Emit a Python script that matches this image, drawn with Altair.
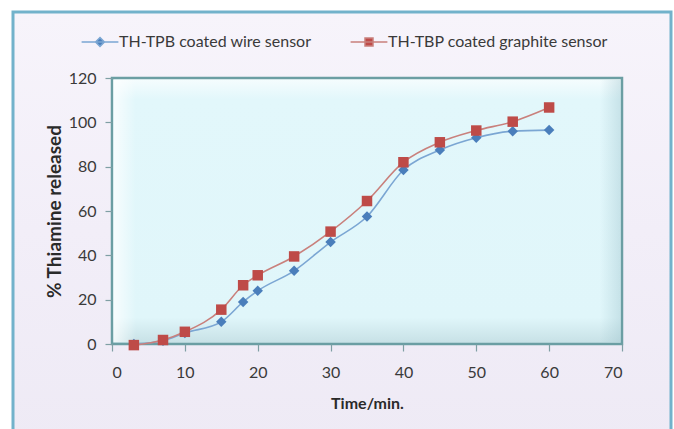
import altair as alt
import pandas as pd

# ---- data ----
time_min = [3, 7, 10, 15, 18, 20, 25, 30, 35, 40, 45, 50, 55, 60]
tpb_wire = [0, 1.5, 5, 10, 19, 24, 33, 46, 57.5, 78.5, 87.5, 93, 96, 96.5]
tbp_graphite = [-0.5, 1.8, 5.5, 15.5, 26.5, 31, 39.5, 50.7, 64.5, 82, 91, 96.3, 100.3, 106.7]
series_names = ["TH-TPB coated wire sensor", "TH-TBP coated graphite sensor"]
x_ticks = [0, 10, 20, 30, 40, 50, 60, 70]
y_ticks = [0, 20, 40, 60, 80, 100, 120]

marker_colors = ["#4A7EBB", "#BE4B48"]
line_colors = ["#7BA6D3", "#C9807C"]

rows = []
for t, a, b in zip(time_min, tpb_wire, tbp_graphite):
    rows.append({"t": t, "v": a, "s": series_names[0]})
    rows.append({"t": t, "v": b, "s": series_names[1]})
df = pd.DataFrame(rows)

W, H = 510, 266
FONT = "Lato"

xs = alt.Scale(domain=[0, 70], nice=False, zero=False)
ys = alt.Scale(domain=[0, 120], nice=False)

x_axis = alt.Axis(values=x_ticks, title="Time/min.", grid=False, domain=False, zindex=1,
                  tickColor="#7F9FA4", tickSize=7, tickWidth=1.2,
                  labelFont=FONT, labelFontSize=16, labelColor="#3A3A3A", labelPadding=13,
                  titleFont=FONT, titleFontSize=16, titleFontWeight="bold", titleColor="#2A2A2A",
                  titlePadding=15)
y_axis = alt.Axis(values=y_ticks, title="% Thiamine released", grid=False, domain=False, zindex=1,
                  tickColor="#7F9FA4", tickSize=7, tickWidth=1.2,
                  labelFont=FONT, labelFontSize=16, labelColor="#3A3A3A", labelPadding=9,
                  titleFont=FONT, titleFontSize=19, titleFontWeight="bold", titleColor="#2A2A2A",
                  titlePadding=4)

one = alt.Data(values=[{"k": 1}])

# outer panel (decoration)
outer = alt.Chart(one).mark_rect(
    fill=alt.LinearGradient(gradient="linear", x1=0, y1=0, x2=0, y2=1, stops=[
        alt.GradientStop(offset=0, color="#F7F4FB"),
        alt.GradientStop(offset=0.5, color="#F2EEF8"),
        alt.GradientStop(offset=1, color="#EEEAF5")]),
    stroke="#72B2CB", strokeWidth=3).encode(
    x=alt.value(-99), x2=alt.value(559), y=alt.value(-66), y2=alt.value(370))

# plot area with a soft bevel
plotbg = alt.Chart(one).mark_rect(
    fill=alt.LinearGradient(gradient="linear", x1=0, y1=0, x2=0, y2=1, stops=[
        alt.GradientStop(offset=0, color="#F6FDFE"),
        alt.GradientStop(offset=0.08, color="#E2F7FB"),
        alt.GradientStop(offset=0.9, color="#E0F6FA"),
        alt.GradientStop(offset=1, color="#C6E0E5")]),
    stroke="#6B9EA3", strokeWidth=2.5).encode(
    x=alt.value(0), x2=alt.value(W), y=alt.value(0), y2=alt.value(H))

leftband = alt.Chart(one).mark_rect(
    fill=alt.LinearGradient(gradient="linear", x1=0, y1=0, x2=1, y2=0, stops=[
        alt.GradientStop(offset=0, color="rgba(255,255,255,0.75)"),
        alt.GradientStop(offset=1, color="rgba(255,255,255,0)")])).encode(
    x=alt.value(1.5), x2=alt.value(24), y=alt.value(2), y2=alt.value(H - 2))

rightband = alt.Chart(one).mark_rect(
    fill=alt.LinearGradient(gradient="linear", x1=0, y1=0, x2=1, y2=0, stops=[
        alt.GradientStop(offset=0, color="rgba(150,190,200,0)"),
        alt.GradientStop(offset=1, color="rgba(150,190,200,0.35)")])).encode(
    x=alt.value(W - 22), x2=alt.value(W - 1.5), y=alt.value(2), y2=alt.value(H - 2))

# heading fragment from the page above (cut off)
head = alt.Chart(alt.Data(values=[{"txt": "graph"}])).mark_text(
    font="Liberation Serif", fontWeight="bold", fontSize=30, align="left",
    baseline="alphabetic", color="#111111").encode(
    text="txt:N", x=alt.value(-103), y=alt.value(-84))

base = alt.Chart(df)

lines = base.mark_line(strokeWidth=1.6, interpolate="monotone").encode(
    x=alt.X("t:Q", scale=xs, axis=x_axis),
    y=alt.Y("v:Q", scale=ys, axis=y_axis),
    color=alt.Color("s:N", scale=alt.Scale(domain=series_names, range=line_colors), legend=None),
    detail="s:N",
)

points = base.mark_point(filled=True, opacity=1, size=110).encode(
    x=alt.X("t:Q", scale=xs),
    y=alt.Y("v:Q", scale=ys),
    color=alt.Color("s:N", scale=alt.Scale(domain=series_names, range=marker_colors), legend=None),
    shape=alt.Shape("s:N", scale=alt.Scale(domain=series_names, range=["diamond", "square"]), legend=None),
)

leg = alt.Legend(orient="none", legendX=-21, legendY=-45, direction="horizontal", title=None,
                 labelFont=FONT, labelFontSize=16, labelColor="#3A3A3A", labelLimit=400,
                 symbolSize=256, symbolStrokeWidth=1.5, labelOffset=10, columnPadding=35,
                 padding=0, symbolOpacity=1)

sym_paths = [
    "M-2.3,0H2.3M0,-0.55L0.55,0L0,0.55L-0.55,0Z",
    "M-2.3,0H2.3M-0.5,-0.5H0.5V0.5H-0.5Z",
]

legend_layer = base.mark_point(filled=True, size=10).encode(
    x=alt.X("t:Q", scale=xs),
    y=alt.Y("v:Q", scale=ys),
    color=alt.Color("s:N", scale=alt.Scale(domain=series_names, range=marker_colors), legend=leg),
    stroke=alt.Stroke("s:N", scale=alt.Scale(domain=series_names, range=line_colors), legend=leg),
    shape=alt.Shape("s:N", scale=alt.Scale(domain=series_names, range=sym_paths), legend=leg),
).transform_filter("false")

chart = alt.layer(outer, plotbg, leftband, rightband, head, lines, points, legend_layer).resolve_scale(
    color="independent", shape="independent", stroke="independent"
).properties(
    width=W, height=H,
    autosize=alt.AutoSizeParams(type="none"),
    padding={"left": 112, "top": 78, "right": 52, "bottom": 85},
    background="white",
).configure_view(stroke=None)

chart.save("out.html", embed_options={"renderer": "svg", "actions": False})
